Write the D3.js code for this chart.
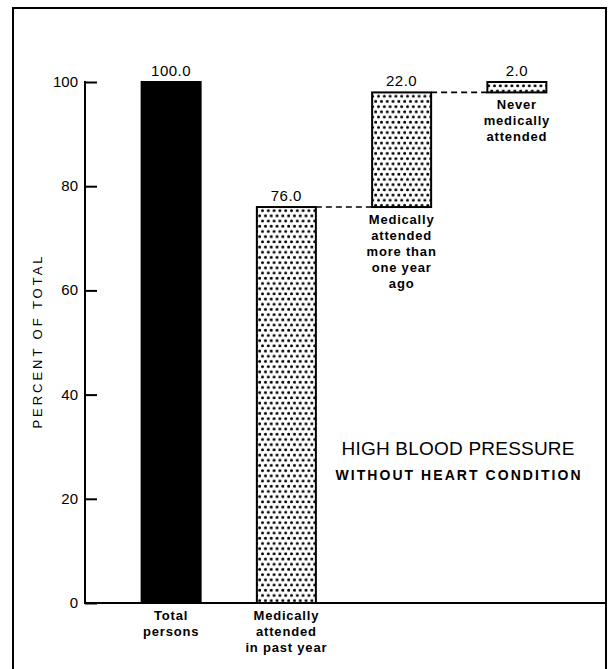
<!DOCTYPE html>
<html>
<head>
<meta charset="utf-8">
<script src="https://cdn.jsdelivr.net/npm/d3@7"></script>
<style>
  html, body { margin: 0; padding: 0; background: #fff; }
  svg { display: block; font-family: "Liberation Sans", Arial, sans-serif; }
</style>
</head>
<body>
<div id="chart-container"></div>
<script>
// chart data
const categories = ["total", "pastYear", "moreThanYear", "never"];
const values = [100.0, 76.0, 22.0, 2.0];
const bases = [0, 0, 76, 98];
const fills = ["solid", "dots", "dots", "dots"];
const catLabels = [
  ["Total", "persons"],
  ["Medically", "attended", "in past year"],
  ["Medically", "attended", "more than", "one year", "ago"],
  ["Never", "medically", "attended"]
];
const yTicks = [0, 20, 40, 60, 80, 100];
const yTitle = "PERCENT OF TOTAL";
const titleLines = ["HIGH BLOOD PRESSURE", "WITHOUT HEART CONDITION"];

const W = 612, H = 669;
const svg = d3.select("#chart-container").append("svg")
  .attr("width", W).attr("height", H);

// dot screen pattern
const defs = svg.append("defs");
const pat = defs.append("pattern")
  .attr("id", "dots")
  .attr("patternUnits", "userSpaceOnUse")
  .attr("width", 5.8).attr("height", 10.4);
pat.append("rect").attr("width", 5.8).attr("height", 10.4).attr("fill", "#fff");
pat.append("circle").attr("cx", 1.5).attr("cy", 2.6).attr("r", 1.5).attr("fill", "#000");
pat.append("circle").attr("cx", 4.4).attr("cy", 7.8).attr("r", 1.5).attr("fill", "#000");

// frame
svg.append("path")
  .attr("d", "M13,669 V8 H606 V669")
  .attr("fill", "none").attr("stroke", "#000").attr("stroke-width", 2);

const x = d3.scaleBand()
  .domain(categories)
  .range([84, 604])
  .paddingInner(0.488)
  .paddingOuter(0.5);

const y = d3.scaleLinear()
  .domain([0, 100])
  .range([603, 82]);

// y axis with inward ticks
const yAxis = svg.append("g")
  .attr("transform", "translate(85,0)")
  .call(d3.axisRight(y).tickValues(yTicks).tickSize(12).tickFormat(""));
yAxis.select(".domain").remove();
yAxis.selectAll("line").attr("stroke-width", 2);
svg.append("line")
  .attr("x1", 85).attr("x2", 85).attr("y1", y(100) - 1).attr("y2", y(0) + 1)
  .attr("stroke", "#000").attr("stroke-width", 2);

svg.append("g").selectAll("text")
  .data(yTicks).join("text")
  .attr("x", 78).attr("y", d => y(d) + 5)
  .attr("text-anchor", "end")
  .attr("font-size", 15)
  .text(d => d);

// baseline
svg.append("line")
  .attr("x1", 84).attr("x2", 606).attr("y1", y(0)).attr("y2", y(0))
  .attr("stroke", "#000").attr("stroke-width", 2);

svg.append("text")
  .attr("transform", `translate(42,${(y(0) + y(100)) / 2}) rotate(-90)`)
  .attr("text-anchor", "middle")
  .attr("font-size", 13)
  .attr("textLength", 172).attr("lengthAdjust", "spacing")
  .text(yTitle);

const data = categories.map((c, i) => ({
  key: c, value: values[i], base: bases[i], fill: fills[i], lines: catLabels[i]
}));

// connector dashes between steps
for (let i = 1; i < data.length - 1; i++) {
  const d = data[i], n = data[i + 1];
  svg.append("line")
    .attr("x1", x(d.key) + x.bandwidth()).attr("x2", x(n.key))
    .attr("y1", y(d.base + d.value)).attr("y2", y(n.base))
    .attr("stroke", "#000").attr("stroke-width", 1.6)
    .attr("stroke-dasharray", "6,4");
}

svg.append("g").selectAll("rect")
  .data(data).join("rect")
  .attr("x", d => x(d.key))
  .attr("width", x.bandwidth())
  .attr("y", d => y(d.base + d.value))
  .attr("height", d => y(d.base) - y(d.base + d.value))
  .attr("fill", d => d.fill === "solid" ? "#000" : "url(#dots)")
  .attr("stroke", "#000").attr("stroke-width", 2);

// value labels
svg.append("g").selectAll("text")
  .data(data).join("text")
  .attr("x", d => x(d.key) + x.bandwidth() / 2)
  .attr("y", d => y(d.base + d.value) - 6)
  .attr("text-anchor", "middle")
  .attr("font-size", 15)
  .attr("letter-spacing", 0.5)
  .text(d => d.value.toFixed(1));

// category labels under each bar
const labG = svg.append("g");
data.forEach(d => {
  const top = y(d.base) + 17;
  const t = labG.append("text")
    .attr("text-anchor", "middle")
    .attr("font-size", 13)
    .attr("font-weight", "bold")
    .attr("letter-spacing", 0.8);
  d.lines.forEach((ln, j) => {
    t.append("tspan")
      .attr("x", x(d.key) + x.bandwidth() / 2)
      .attr("y", top + j * 16)
      .text(ln);
  });
});

// title block
svg.append("text")
  .attr("x", 458).attr("y", 455)
  .attr("text-anchor", "middle")
  .attr("font-size", 19)
  .attr("textLength", 233).attr("lengthAdjust", "spacing")
  .text(titleLines[0]);
svg.append("text")
  .attr("x", 458).attr("y", 480)
  .attr("text-anchor", "middle")
  .attr("font-size", 14)
  .attr("font-weight", "bold")
  .attr("textLength", 245).attr("lengthAdjust", "spacing")
  .text(titleLines[1]);
</script>
</body>
</html>
